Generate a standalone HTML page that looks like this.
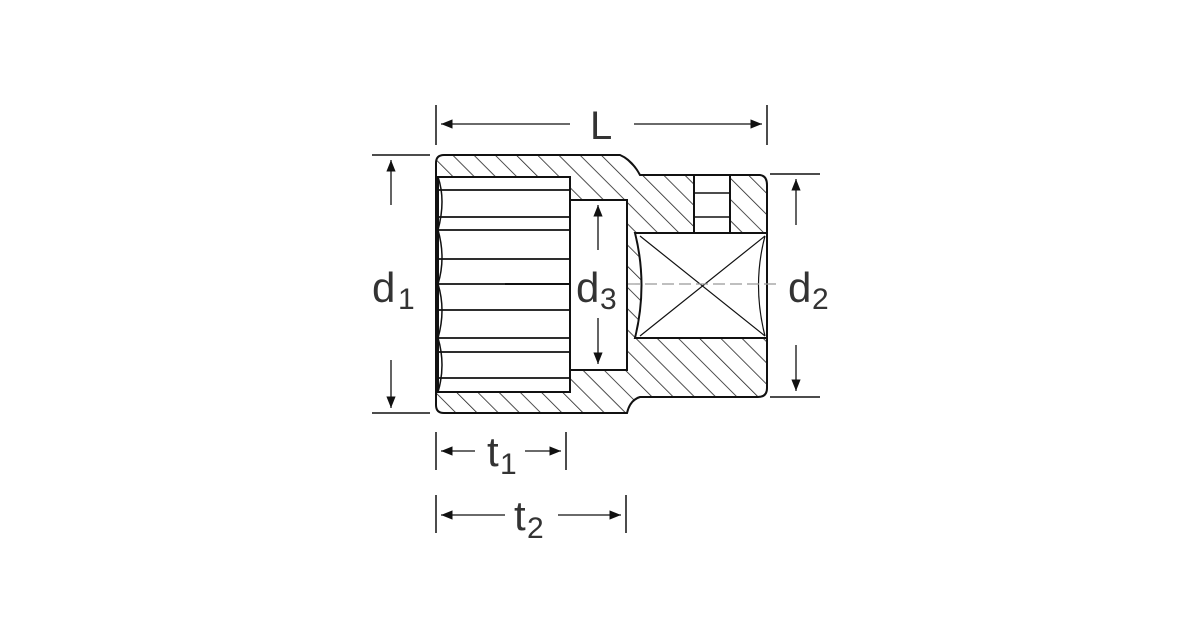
<!DOCTYPE html>
<html><head><style>html,body{margin:0;padding:0;background:#fff}svg{display:block}</style></head>
<body>
<svg width="1200" height="630" viewBox="0 0 1200 630" xmlns="http://www.w3.org/2000/svg" font-family="Liberation Sans, sans-serif">
<defs>
<pattern id="h" patternUnits="userSpaceOnUse" width="15" height="15" patternTransform="rotate(-45)">
<rect width="15" height="15" fill="#fff"/>
<line x1="0" y1="0" x2="0" y2="15" stroke="#222" stroke-width="1.6"/>
</pattern>
<marker id="a" viewBox="0 0 10 10" refX="10" refY="5" markerWidth="9" markerHeight="9" orient="auto-start-reverse"><path d="M0,1 L10,5 L0,9 z" fill="#111"/></marker>
</defs>
<g stroke="#111" stroke-width="2" fill="none">
<path d="M444,155 L620,155 Q632,160 640,175 L760,175 Q767,176 767,185 L767,388 Q767,397 758,397 L640,397 Q630,400 627,413 L444,413 Q436,413 436,405 L436,163 Q436,155 444,155 Z" fill="url(#h)"/>
<rect x="438" y="177" width="132" height="215" fill="#fff"/>
<path d="M438,190H570M438,217H570M438,230H570M438,259H570M438,284H570M438,310H570M438,338H570M438,352H570M438,378H570" stroke-width="1.8"/>
<path d="M438,177 Q446,200 438,230 Q446,258 438,284 Q446,310 438,338 Q446,365 438,392" stroke-width="1.5"/>
<rect x="570" y="200" width="57" height="170" fill="#fff"/>
<path d="M635,233 L767,233 L767,338 L635,338 Q648,285 635,233 Z" fill="#fff"/>
<path d="M640,236 L765,336 M640,336 L765,236" stroke-width="1.2"/>
<path d="M765,236 Q752,285 765,336" stroke-width="1.2"/>
<rect x="694" y="175" width="36" height="58" fill="#fff"/>
<path d="M694,193H730M694,217H730" stroke-width="1.5"/>
<path d="M505,284H570" stroke-width="2"/>
<path d="M628,284H780" stroke="#999" stroke-width="1.2" stroke-dasharray="12,5"/>
<path d="M372,155H430M372,413H430M770,174H820M770,397H820" stroke-width="1.5"/>
<path d="M436,105V145M767,105V145M436,432V470M566,432V470M436,495V533M626,495V533" stroke-width="1.5"/>
<g stroke-width="1.3">
<line x1="391" y1="205" x2="391" y2="160" marker-end="url(#a)"/>
<line x1="391" y1="360" x2="391" y2="408" marker-end="url(#a)"/>
<line x1="598" y1="250" x2="598" y2="205" marker-end="url(#a)"/>
<line x1="598" y1="318" x2="598" y2="364" marker-end="url(#a)"/>
<line x1="796" y1="225" x2="796" y2="179" marker-end="url(#a)"/>
<line x1="796" y1="345" x2="796" y2="391" marker-end="url(#a)"/>
<line x1="570" y1="124" x2="441" y2="124" marker-end="url(#a)"/>
<line x1="634" y1="124" x2="762" y2="124" marker-end="url(#a)"/>
<line x1="475" y1="451" x2="441" y2="451" marker-end="url(#a)"/>
<line x1="525" y1="451" x2="561" y2="451" marker-end="url(#a)"/>
<line x1="505" y1="515" x2="441" y2="515" marker-end="url(#a)"/>
<line x1="558" y1="515" x2="621" y2="515" marker-end="url(#a)"/>
</g>
</g>
<g fill="#333">
<text x="590" y="139" font-size="40">L</text>
<text x="372" y="302" font-size="42">d</text><text x="398" y="309" font-size="30">1</text>
<text x="576" y="302" font-size="42">d</text><text x="600" y="309" font-size="30">3</text>
<text x="788" y="302" font-size="42">d</text><text x="812" y="309" font-size="30">2</text>
<text x="487" y="466" font-size="42">t</text><text x="500" y="474" font-size="30">1</text>
<text x="514" y="530" font-size="42">t</text><text x="527" y="538" font-size="30">2</text>
</g>
</svg>
</body></html>
